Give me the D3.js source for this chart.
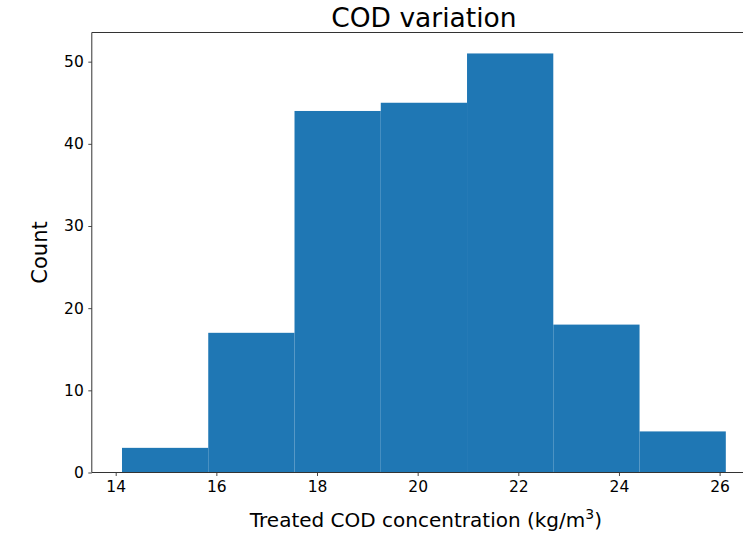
<!DOCTYPE html>
<html>
<head>
<meta charset="utf-8">
<script src="https://cdn.jsdelivr.net/npm/d3@7"></script>
<style>
  html, body { margin: 0; padding: 0; background: #fff; overflow: hidden; }
  svg { display: block; font-family: "DejaVu Sans", sans-serif; }
</style>
</head>
<body>
<svg id="chart" width="743" height="536"></svg>
<script>
// Data
const binEdges = [14.125, 15.839, 17.553, 19.267, 20.981, 22.695, 24.409, 26.123];
const counts = [3, 17, 44, 45, 51, 18, 5];
const xTicks = [14, 16, 18, 20, 22, 24, 26];
const yTicks = [0, 10, 20, 30, 40, 50];
const titleText = "COD variation";
const xLabelText = "Treated COD concentration (kg/m";
const yLabelText = "Count";

const svg = d3.select("#chart");
const plotL = 91.8, plotR = 756, plotT = 32.5, plotB = 472.5;

const span = binEdges[binEdges.length - 1] - binEdges[0];
const x = d3.scaleLinear()
  .domain([binEdges[0] - 0.05 * span, binEdges[binEdges.length - 1] + 0.05 * span])
  .range([plotL, plotR]);
const y = d3.scaleLinear()
  .domain([0, d3.max(counts) * 1.05])
  .range([plotB, plotT]);

const bins = counts.map((c, i) => ({ x0: binEdges[i], x1: binEdges[i + 1], c }));

svg.append("g").selectAll("rect").data(bins).join("rect")
  .attr("x", d => x(d.x0))
  .attr("width", d => x(d.x1) - x(d.x0))
  .attr("y", d => y(d.c))
  .attr("height", d => y(0) - y(d.c))
  .attr("fill", "#1f77b4");

// Axes
const xAxis = d3.axisBottom(x).tickValues(xTicks).tickSize(3.5).tickPadding(4.5).tickFormat(d3.format("d"));
const yAxis = d3.axisLeft(y).tickValues(yTicks).tickSize(3.5).tickPadding(4.5).tickFormat(d3.format("d"));

const gx = svg.append("g").attr("transform", `translate(0,${plotB})`).call(xAxis);
const gy = svg.append("g").attr("transform", `translate(${plotL},0)`).call(yAxis);
[gx, gy].forEach(g => {
  g.select(".domain").remove();
  g.selectAll(".tick line").attr("stroke", "#333").attr("stroke-width", 0.9);
  g.selectAll(".tick text").attr("fill", "#000")
    .style("font-family", "DejaVu Sans").style("font-size", "15.5px");
});

// Spines
const spine = svg.append("g").attr("fill", "none").attr("stroke", "#333").attr("stroke-width", 1);
spine.append("line").attr("x1", plotL).attr("x2", plotL).attr("y1", plotT).attr("y2", plotB);
spine.append("line").attr("x1", plotL).attr("x2", plotR).attr("y1", plotB).attr("y2", plotB);
spine.append("line").attr("x1", plotL).attr("x2", plotR).attr("y1", plotT).attr("y2", plotT);
spine.append("line").attr("x1", plotR).attr("x2", plotR).attr("y1", plotT).attr("y2", plotB);

// Title
const cx = (plotL + plotR) / 2;
svg.append("text").attr("x", cx).attr("y", 27)
  .attr("text-anchor", "middle").style("font-size", "26.5px").attr("fill", "#000")
  .text(titleText);

// X label with superscript
const xl = svg.append("text").attr("x", cx + 2).attr("y", 527)
  .attr("text-anchor", "middle").style("font-size", "20px").attr("fill", "#000");
xl.append("tspan").text(xLabelText);
xl.append("tspan").attr("dy", -8).style("font-size", "14px").text("3");
xl.append("tspan").attr("dy", 8).text(")");

// Y label
svg.append("text")
  .attr("transform", `translate(47,${(plotT + plotB) / 2}) rotate(-90)`)
  .attr("text-anchor", "middle").style("font-size", "21px").attr("fill", "#000")
  .text(yLabelText);
</script>
</body>
</html>
